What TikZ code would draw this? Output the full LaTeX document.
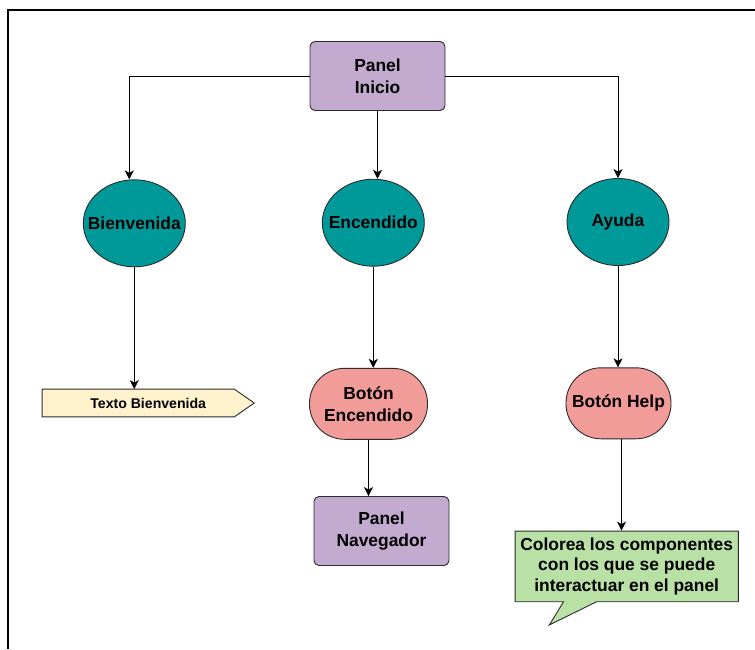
\documentclass[tikz,border=0pt]{standalone}
\usepackage{fontspec}
\setmainfont{Liberation Sans}
\usetikzlibrary{shapes.geometric,shapes.callouts,arrows.meta,backgrounds}

\definecolor{panelfill}{HTML}{C3ABD0}
\definecolor{statefill}{HTML}{009999}
\definecolor{buttonfill}{HTML}{F19C99}
\definecolor{notefill}{HTML}{FFF2CC}
\definecolor{hintfill}{HTML}{B9E0A5}
\definecolor{edgegray}{HTML}{2B2B2B}

% keeps wide labels from stretching the ellipses
\newcommand{\zerowidth}[1]{\makebox[0pt]{#1}}

\begin{document}
\begin{tikzpicture}[x=1pt,y=-1pt,
  base/.style={draw=edgegray, line width=0.9pt, align=center, inner sep=0pt,
    font=\fontsize{17.4}{22}\selectfont\bfseries},
  panelbox/.style={base, rectangle, rounded corners=5pt, fill=panelfill,
    minimum width=135pt, minimum height=69pt},
  state/.style={base, ellipse, fill=statefill, minimum width=102pt, minimum height=87pt},
  pill/.style={base, rectangle, rounded corners=35pt, fill=buttonfill, minimum height=71pt},
  link/.style={draw=black, line width=0.8pt, -{Stealth[length=9pt,width=9pt,inset=2.5pt]}}
]
\useasboundingbox (0,0) rectangle (755,649);

% frame
\draw[line width=1.7pt] (8.3,649) -- (8.3,10) -- (755,10);

% nodes
\node[panelbox] (pi) at (377.5,76) {Panel\\Inicio};

\node[state] (bv) at (134.3,223.3) {\zerowidth{Bienvenida}};
\node[state] (en) at (373.3,222.7) {\zerowidth{Encendido}};
\node[state] (ay) at (618,222) {\zerowidth{Ayuda}};

\node[rectangle, minimum width=211.7pt, minimum height=27.4pt, inner sep=0pt,
  font=\fontsize{14.1}{16}\selectfont\bfseries] (tb) at (148.2,403) {Texto Bienvenida};
\begin{scope}[on background layer]
  \path[draw=edgegray, line width=0.9pt, fill=notefill]
    (tb.north west) -- ([xshift=-20pt]tb.north east) -- (tb.east)
    -- ([xshift=-20pt]tb.south east) -- (tb.south west) -- cycle;
\end{scope}

\node[pill, minimum width=118pt] (be) at (368.5,403.8) {Botón\\Encendido};
\node[pill, minimum width=105pt] (bh) at (618.5,403.3) {Botón Help};

\node[panelbox] (pn) at (381.5,531) {Panel\\Navegador};

\node[base, rectangle callout, fill=hintfill,
  callout absolute pointer={(549.3,625)}, callout pointer width=33pt,
  minimum width=223.3pt, minimum height=70.7pt,
  font=\fontsize{17.4}{20.5}\selectfont\bfseries] (co) at (626.7,566.4)
  {Colorea los componentes\\con los que se puede\\interactuar en el panel};

% connectors
\draw[link] (pi.west) -| ([xshift=-5pt]bv.north);
\draw[link] (pi.east) -| (ay.north);
\draw[link] (pi.south) -- (pi.south |- en.north);
\draw[link] (bv.south) -- (bv.south |- tb.north);
\draw[link] (en.south) -- (en.south |- be.north);
\draw[link] (be.south) -- (be.south |- pn.north);
\draw[link] (ay.south) -- (ay.south |- bh.north);
\draw[link] ([xshift=3pt]bh.south) -- ([xshift=3pt]bh.south |- co.north);
\end{tikzpicture}
\end{document}
